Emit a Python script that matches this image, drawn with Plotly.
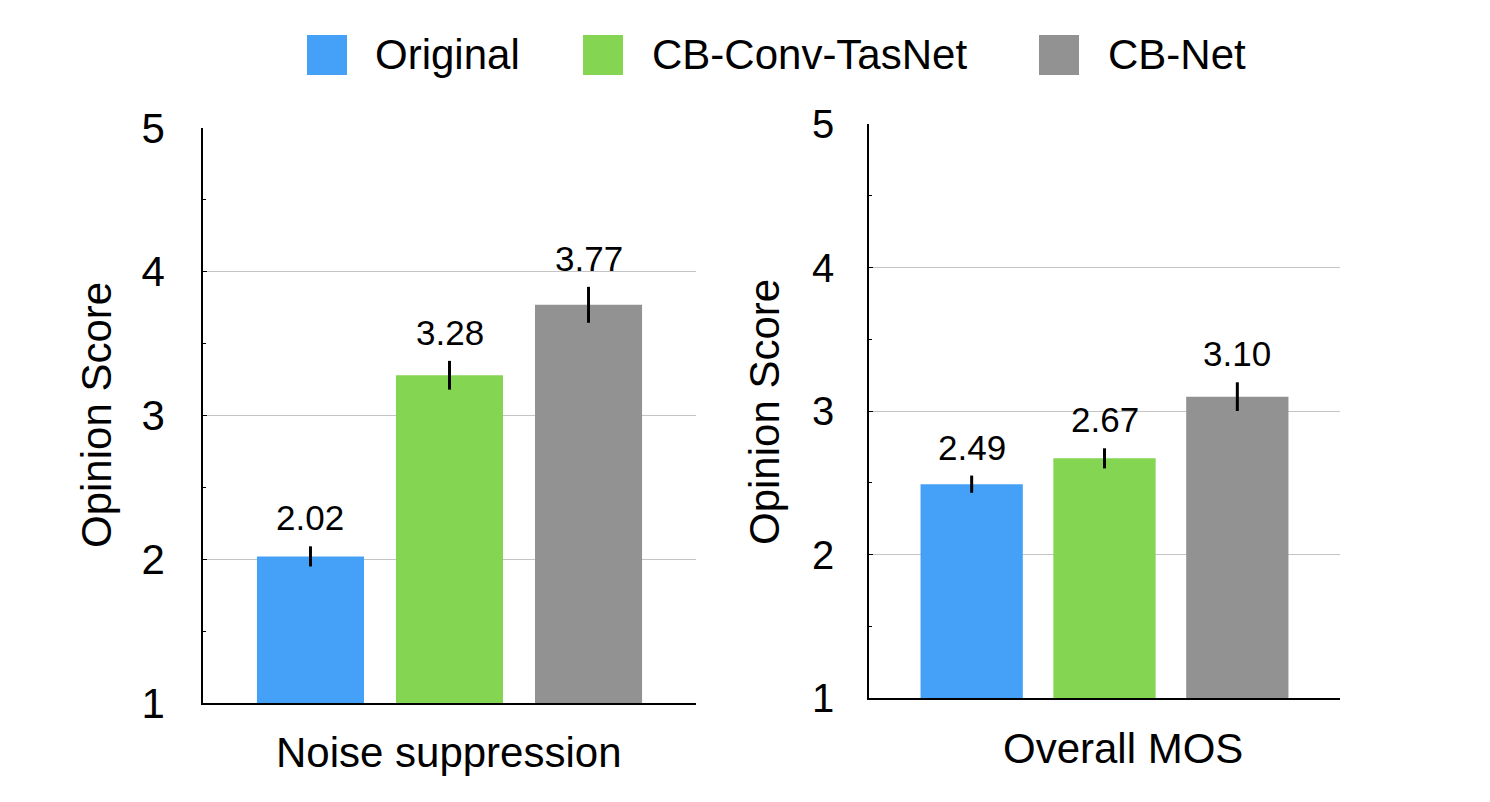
import plotly.graph_objects as go
from plotly.subplots import make_subplots

# Données
categories = ["Noise suppression", "Overall MOS"]
systems = ["Original", "CB-Conv-TasNet", "CB-Net"]
noise_scores = [2.02, 3.28, 3.77]
noise_err = [0.07, 0.10, 0.125]
mos_scores = [2.49, 2.67, 3.10]
mos_err = [0.06, 0.07, 0.10]
y_ticks = [1, 2, 3, 4, 5]

colors = ["#45A1F8", "#84D552", "#929292"]
FONT = "Liberation Sans, Arial, Helvetica, sans-serif"
W, H = 1490, 802
OFF_X, OFF_Y = 7, 8  # marge du <body> de la page html


def px(x):
    """Position horizontale en pixels de page -> fraction du papier."""
    return (x - OFF_X) / W


def py(y):
    """Position verticale en pixels de page -> fraction du papier."""
    return 1 - (y - OFF_Y) / H


fig = make_subplots(rows=1, cols=2)

panels = [(noise_scores, noise_err), (mos_scores, mos_err)]
for col, (scores, errs) in enumerate(panels, start=1):
    fig.add_trace(go.Bar(x=list(range(len(systems))), y=scores, width=0.77,
                         marker_color=colors, marker_line_width=0,
                         error_y=dict(type="data", array=errs, width=0, thickness=3, color="black"),
                         showlegend=False, hoverinfo="skip"), row=1, col=col)
    # Étiquettes de valeur au-dessus des barres d'erreur
    suffix = "" if col == 1 else str(col)
    for i, (v, e) in enumerate(zip(scores, errs)):
        fig.add_annotation(x=i, y=v + e, text=f"{v:.2f}", showarrow=False,
                           xanchor="center", yanchor="bottom", yshift=7,
                           font=dict(size=35, color="black", family=FONT),
                           xref="x" + suffix, yref="y" + suffix)

# Domaines des deux panneaux (en pixels de page)
domains = [((202, 695), (703, 128)), ((868, 1339), (698, 124))]
standoffs = [28, 25]
tick_sizes = [42, 40]
for col, ((x0, x1), (yb, yt)) in enumerate(domains, start=1):
    fig.update_xaxes(domain=[px(x0), px(x1)], range=[-0.773, 2.773], showticklabels=False,
                     ticks="", showgrid=False, zeroline=False, showline=True, automargin=False,
                     linecolor="black", linewidth=1.5, row=1, col=col)
    fig.update_yaxes(domain=[py(yb), py(yt)], range=[1, 5], tickvals=y_ticks,
                     ticks="inside", ticklen=4, tickcolor="black", tickwidth=1,
                     minor=dict(dtick=0.5, ticks="inside", ticklen=3, tickcolor="black", showgrid=False),
                     showgrid=True, gridcolor="#C4C4C4", gridwidth=1, zeroline=False,
                     showline=True, linecolor="black", linewidth=1.5, automargin=False,
                     ticklabelstandoff=standoffs[col - 1],
                     tickfont=dict(size=tick_sizes[col - 1], color="black", family=FONT),
                     row=1, col=col)

# Titres des axes
x_titles = [(448, 752), (1122, 748)]
y_titles = [(95, 415), (763, 412)]
for (tx, ty), text in zip(x_titles, categories):
    fig.add_annotation(x=px(tx), y=py(ty), xref="paper", yref="paper", text=text,
                       showarrow=False, xanchor="center", yanchor="middle",
                       font=dict(size=42, color="black", family=FONT))
for (tx, ty) in y_titles:
    fig.add_annotation(x=px(tx), y=py(ty), xref="paper", yref="paper", text="Opinion Score",
                       textangle=-90, showarrow=False, xanchor="center", yanchor="middle",
                       font=dict(size=42, color="black", family=FONT))

# Légende dessinée à la main (carrés de 40 px)
legend_x = [(306, 372), (582, 649), (1038, 1105)]
for (sx, tx), name, c in zip(legend_x, systems, colors):
    fig.add_shape(type="rect", xref="paper", yref="paper", x0=px(sx), x1=px(sx + 40),
                  y0=py(75), y1=py(35), fillcolor=c, line_width=0)
    fig.add_annotation(x=px(tx), y=py(55), xref="paper", yref="paper", text=name,
                       showarrow=False, xanchor="left", yanchor="middle",
                       font=dict(size=42, color="black", family=FONT))

fig.update_layout(width=W, height=H, margin=dict(l=0, r=0, t=0, b=0, pad=0),
                  plot_bgcolor="white", paper_bgcolor="white", showlegend=False,
                  font=dict(family=FONT, color="black"))

fig.write_html("out.html")
